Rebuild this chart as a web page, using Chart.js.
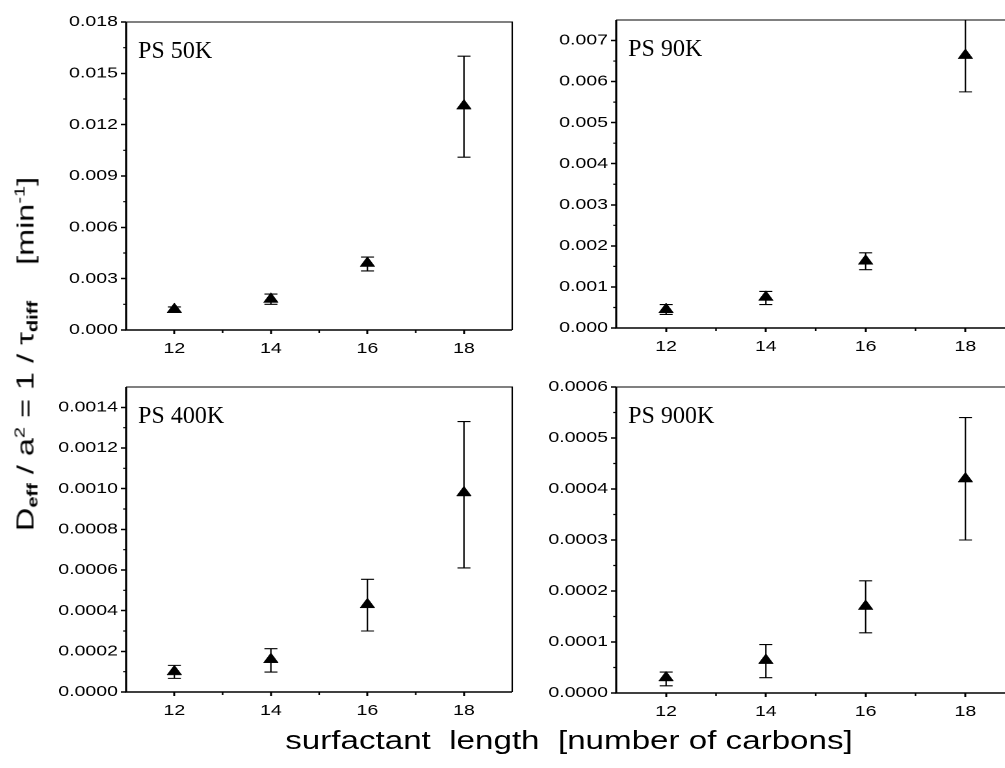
<!DOCTYPE html>
<html>
<head>
<meta charset="utf-8">
<script src="https://cdn.jsdelivr.net/npm/chart.js@4.4.0/dist/chart.umd.min.js"></script>
<style>
  html, body { margin: 0; padding: 0; background: #fff; width: 1005px; height: 768px; overflow: hidden; }
  /* the scanned figure is stretched sideways, so the whole stage is too */
  #stage { position: absolute; left: 0; top: 0; width: 800px; height: 768px;
           transform: scaleX(1.3); transform-origin: 0 0;
           font-family: "Liberation Sans", Arial, sans-serif; color: #000; }
  .panel { position: absolute; }
  .panel canvas { display: block; }
  #xtitle { position: absolute; left: 437.7px; top: 727px; transform: translateX(-50%);
            font-size: 25.5px; line-height: 26px; white-space: pre; }
  #ytitle { position: absolute; left: 27px; top: 354px;
            transform: translate(-50%, -50%) rotate(-90deg) scaleX(1.35);
            font-family: "Liberation Sans", Arial, sans-serif; color: #000;
            font-size: 24px; line-height: 24px; white-space: pre; }
  #ytitle sub { font-size: 0.62em; font-weight: bold; vertical-align: baseline; position: relative; top: 0.3em; }
  #ytitle sup { font-size: 0.62em; vertical-align: baseline; position: relative; top: -0.62em; }
</style>
</head>
<body>
<div id="stage">
  <div class="panel" id="p0"><canvas id="c0"></canvas></div>
  <div class="panel" id="p1"><canvas id="c1"></canvas></div>
  <div class="panel" id="p2"><canvas id="c2"></canvas></div>
  <div class="panel" id="p3"><canvas id="c3"></canvas></div>
  <div id="xtitle">surfactant  length  [number of carbons]</div>
</div>
<div id="ytitle">D<sub>eff</sub> / a<sup>2</sup> = 1 / τ<sub>diff</sub>    [min<sup>-1</sup>]</div>
<script>
const S = 1.3;

// data
const carbons = [12, 14, 16, 18];
const xTickValues = [12, 14, 16, 18];
const panelNames = ['PS 50K', 'PS 90K', 'PS 400K', 'PS 900K'];

const ps50kMean = [0.0012, 0.0018, 0.0039, 0.0131];
const ps50kLow  = [0.00105, 0.0015, 0.00345, 0.0101];
const ps50kHigh = [0.00135, 0.0021, 0.00426, 0.0160];
const ps50kTicks = [0, 0.003, 0.006, 0.009, 0.012, 0.015, 0.018];

const ps90kMean = [0.00045, 0.00075, 0.00163, 0.00664];
const ps90kLow  = [0.00033, 0.00057, 0.00142, 0.00575];
const ps90kHigh = [0.00057, 0.00089, 0.00183, 0.0075];
const ps90kTicks = [0, 0.001, 0.002, 0.003, 0.004, 0.005, 0.006, 0.007];

const ps400kMean = [0.0001, 0.00016, 0.00043, 0.00098];
const ps400kLow  = [0.000067, 0.000098, 0.0003, 0.00061];
const ps400kHigh = [0.000131, 0.000213, 0.000554, 0.00133];
const ps400kTicks = [0, 0.0002, 0.0004, 0.0006, 0.0008, 0.0010, 0.0012, 0.0014];

const ps900kMean = [0.00003, 0.000064, 0.00017, 0.00042];
const ps900kLow  = [0.000014, 0.00003, 0.000118, 0.0003];
const ps900kHigh = [0.000041, 0.000095, 0.00022, 0.00054];
const ps900kTicks = [0, 0.0001, 0.0002, 0.0003, 0.0004, 0.0005, 0.0006];

const panels = [
  { mean: ps50kMean,  low: ps50kLow,  high: ps50kHigh,  ticks: ps50kTicks,  yMax: 0.018,  dec: 3, minor: 0.0015 },
  { mean: ps90kMean,  low: ps90kLow,  high: ps90kHigh,  ticks: ps90kTicks,  yMax: 0.0075, dec: 3, minor: 0.0005 },
  { mean: ps400kMean, low: ps400kLow, high: ps400kHigh, ticks: ps400kTicks, yMax: 0.0015, dec: 4, minor: 0.0001 },
  { mean: ps900kMean, low: ps900kLow, high: ps900kHigh, ticks: ps900kTicks, yMax: 0.0006, dec: 4, minor: 0.00005 }
];

// plot boxes in page pixels
const boxes = [
  { left: 126,   right: 511.5,  top: 21.7,  bottom: 329.3 },
  { left: 616.7, right: 1015.6, top: 20,    bottom: 328.3 },
  { left: 126,   right: 511.7,  top: 387.3, bottom: 692.7 },
  { left: 616.7, right: 1015.6, top: 386.7, bottom: 692.7 }
];
const ML = 95, MT = 15, MR = 10, MB = 45;

const frame = {
  id: 'frame',
  beforeDatasetsDraw(chart) {
    const ctx = chart.ctx, xs = chart.scales.x, ys = chart.scales.y;
    ctx.save();
    ctx.strokeStyle = '#000';
    ctx.lineWidth = 1.1;
    chart.data.datasets.forEach(ds => {
      ds.data.forEach((p, i) => {
        const x = xs.getPixelForValue(p.x);
        const y1 = ys.getPixelForValue(ds.errLow[i]);
        const y2 = ys.getPixelForValue(ds.errHigh[i]);
        ctx.beginPath();
        ctx.moveTo(x, y1); ctx.lineTo(x, y2);
        ctx.moveTo(x - 5, y1); ctx.lineTo(x + 5, y1);
        ctx.moveTo(x - 5, y2); ctx.lineTo(x + 5, y2);
        ctx.stroke();
      });
    });
    ctx.restore();
  },
  afterDraw(chart, args, opts) {
    const ctx = chart.ctx, a = chart.chartArea, xs = chart.scales.x, ys = chart.scales.y;
    ctx.save();
    ctx.strokeStyle = '#000';
    // top and right edges are lighter than the axes
    ctx.lineWidth = 1.1;
    ctx.beginPath();
    ctx.moveTo(a.left, a.top); ctx.lineTo(a.right, a.top); ctx.lineTo(a.right, a.bottom);
    ctx.stroke();
    ctx.lineWidth = 1.6;
    ctx.beginPath();
    ctx.moveTo(a.left, a.top); ctx.lineTo(a.left, a.bottom); ctx.lineTo(a.right, a.bottom);
    ctx.stroke();
    // minor ticks
    ctx.lineWidth = 1.2;
    ctx.beginPath();
    for (let v = opts.minor; v < ys.max; v += 2 * opts.minor) {
      const y = ys.getPixelForValue(v);
      ctx.moveTo(a.left, y); ctx.lineTo(a.left - 2.3, y);
    }
    [13, 15, 17].forEach(v => {
      const x = xs.getPixelForValue(v);
      ctx.moveTo(x, a.bottom); ctx.lineTo(x, a.bottom + 3);
    });
    ctx.stroke();
    // panel name, drawn unstretched
    ctx.translate(a.left + 12 / S, a.top + 36);
    ctx.scale(1 / S, 1);
    ctx.fillStyle = '#000';
    ctx.font = '24px "Liberation Serif", "Times New Roman", serif';
    ctx.textBaseline = 'alphabetic';
    ctx.fillText(opts.label, 0, 0);
    ctx.restore();
  }
};

panels.forEach((p, k) => {
  const b = boxes[k];
  const div = document.getElementById('p' + k);
  const w = Math.round((b.right - b.left) / S) + ML + MR;
  const h = Math.round(b.bottom - b.top) + MT + MB;
  div.style.left = (b.left / S - ML) + 'px';
  div.style.top = (b.top - MT) + 'px';
  const canvas = document.getElementById('c' + k);
  canvas.width = w;
  canvas.height = h;

  new Chart(canvas, {
    type: 'scatter',
    data: {
      datasets: [{
        data: carbons.map((c, i) => ({ x: c, y: p.mean[i] })),
        errLow: p.low,
        errHigh: p.high,
        pointStyle: 'triangle',
        pointRadius: 6.5,
        pointHoverRadius: 6.5,
        backgroundColor: '#000',
        borderColor: '#000',
        borderWidth: 0.5
      }]
    },
    options: {
      responsive: false,
      devicePixelRatio: 2,
      animation: false,
      events: [],
      layout: { autoPadding: false, padding: { top: MT, right: MR, left: 0, bottom: 0 } },
      plugins: {
        legend: { display: false },
        tooltip: { enabled: false },
        frame: { label: panelNames[k], minor: p.minor }
      },
      scales: {
        x: {
          type: 'linear', min: 11, max: 19,
          afterBuildTicks: s => { s.ticks = xTickValues.map(v => ({ value: v })); },
          afterFit: s => { s.height = MB; },
          border: { display: false },
          grid: { drawOnChartArea: false, drawTicks: true, tickLength: 4, tickColor: '#000', tickWidth: 1.5 },
          ticks: { color: '#000', padding: 6, maxRotation: 0,
                   font: { family: '"Liberation Sans", Arial, sans-serif', size: 15 },
                   callback: v => String(v) }
        },
        y: {
          type: 'linear', min: 0, max: p.yMax,
          afterBuildTicks: s => { s.ticks = p.ticks.map(v => ({ value: v })); },
          afterFit: s => { s.width = ML; },
          border: { display: false },
          grid: { drawOnChartArea: false, drawTicks: true, tickLength: 4, tickColor: '#000', tickWidth: 1.5 },
          ticks: { color: '#000', padding: 2.3,
                   font: { family: '"Liberation Sans", Arial, sans-serif', size: 15 },
                   callback: v => Number(v).toFixed(p.dec) }
        }
      }
    },
    plugins: [frame]
  });
});
</script>
</body>
</html>
